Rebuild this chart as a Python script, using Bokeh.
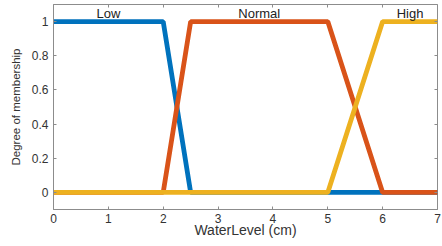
from bokeh.plotting import figure
from bokeh.models import Range1d, LinearAxis, FixedTicker
from bokeh.core.properties import value
from bokeh.embed import file_html
from bokeh.resources import INLINE

# membership functions (trapezoids) on WaterLevel (cm)
low_x = [0, 2, 2.5, 7]
low_y = [1, 1, 0, 0]
normal_x = [0, 2, 2.5, 5, 6, 7]
normal_y = [0, 0, 1, 1, 0, 0]
high_x = [0, 5, 6, 7]
high_y = [0, 0, 1, 1]

labels = ["Low", "Normal", "High"]
label_x = [1.0, 3.75, 6.5]
label_y = [1.045, 1.045, 1.045]

x_ticks = [0, 1, 2, 3, 4, 5, 6, 7]
y_ticks = [0, 0.2, 0.4, 0.6, 0.8, 1]

FONT = "Liberation Sans"
AX = "#8c8c8c"
TXT = "#333333"

p = figure(width=442, height=246, output_backend="svg", toolbar_location=None,
           x_range=Range1d(0, 7), y_range=Range1d(-0.1, 1.1),
           min_border_left=53, min_border_right=5, min_border_top=4,
           min_border_bottom=37)
p.grid.visible = False
p.outline_line_color = AX
p.background_fill_color = "white"
p.border_fill_color = "white"

p.line(low_x, low_y, line_color="#0072BD", line_width=4.8)
p.line(normal_x, normal_y, line_color="#D95319", line_width=4.8)
p.line(high_x, high_y, line_color="#EDB120", line_width=4.8)

p.text(x=label_x, y=label_y, text=labels, text_align="center",
       text_baseline="middle", text_font=value(FONT), text_font_size="13px",
       text_color="#222222")

for ax, ticks in ((p.xaxis[0], x_ticks), (p.yaxis[0], y_ticks)):
    ax.ticker = FixedTicker(ticks=ticks)
    ax.major_tick_in = 3
    ax.major_tick_out = 0
    ax.minor_tick_line_color = None
    ax.axis_line_color = AX
    ax.major_tick_line_color = AX
    ax.major_label_text_font = FONT
    ax.major_label_text_font_size = "12px"
    ax.major_label_text_color = TXT
    ax.axis_label_text_font = FONT
    ax.axis_label_text_font_style = "normal"
    ax.axis_label_text_color = TXT

p.xaxis.axis_label = "WaterLevel (cm)"
p.xaxis.axis_label_text_font_size = "14px"
p.xaxis.axis_label_standoff = -4
p.xaxis.major_label_standoff = 4
p.yaxis.axis_label = "Degree of membership"
p.yaxis.axis_label_text_font_size = "11.5px"
p.yaxis.axis_label_standoff = 7
p.yaxis.major_label_standoff = 5
p.yaxis.major_label_overrides = {0: "0", 1: "1"}

top = LinearAxis(ticker=FixedTicker(ticks=x_ticks),
                 major_label_overrides={t: "" for t in x_ticks},
                 major_tick_in=3, major_tick_out=0, minor_tick_line_color=None,
                 axis_line_color=None, major_tick_line_color=AX, major_label_standoff=0)
right = LinearAxis(ticker=FixedTicker(ticks=y_ticks),
                   major_label_overrides={t: "" for t in y_ticks},
                   major_tick_in=3, major_tick_out=0, minor_tick_line_color=None,
                   axis_line_color=None, major_tick_line_color=AX, major_label_standoff=0)
p.add_layout(top, "above")
p.add_layout(right, "right")

open("out.html", "w").write(file_html(p, INLINE))
